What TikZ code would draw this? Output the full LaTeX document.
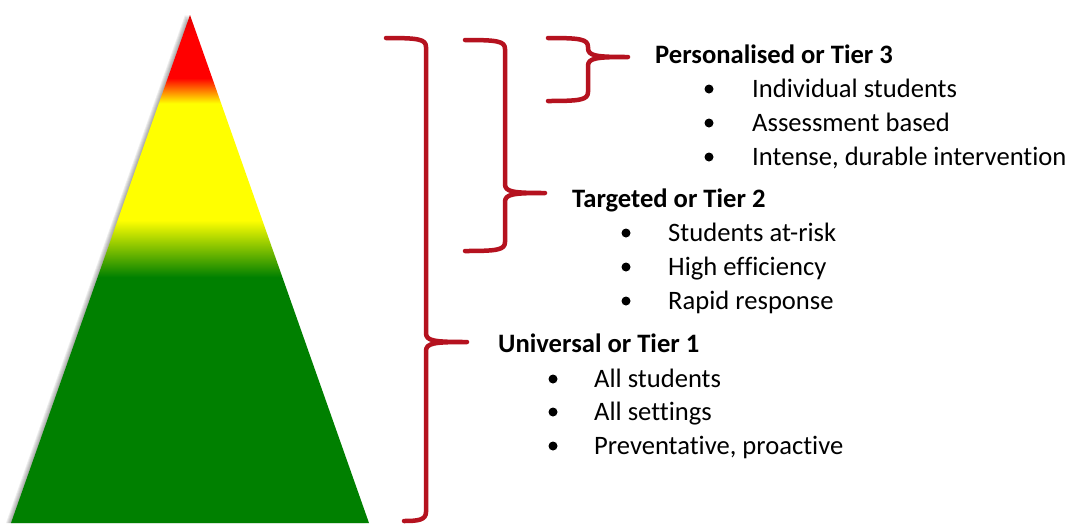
\documentclass[tikz,border=0pt]{standalone}
\usepackage{fontspec}
\setmainfont{Carlito}[Ligatures=NoCommon]
\definecolor{TierRed}{HTML}{FF0000}
\definecolor{TierYellow}{HTML}{FFFF00}
\definecolor{TierGreen}{HTML}{008000}
\definecolor{BraceRed}{HTML}{B5121F}
% colour bands of the pyramid, bottom (25bp) to apex (75bp)
\pgfdeclareverticalshading{tiershade}{100bp}{%
  color(0bp)=(TierGreen); color(49.2bp)=(TierGreen);
  color(54.8bp)=(TierYellow); color(66.3bp)=(TierYellow);
  color(68.8bp)=(TierRed); color(73bp)=(TierRed);
  color(75bp)=(TierRed!88!black); color(100bp)=(TierRed!88!black)}
% #1 top end, #2 spine x, #3 top y, #4 tip y, #5 tip x, #6 bottom y, #7 bottom end
\newcommand{\tierbrace}[7]{%
  \draw[brace line]
    (#1,#3) .. controls (#2-8,#3) and (#2,#3+1) .. (#2,#3+9)
    -- (#2,#4-9) .. controls (#2,#4-1) and (#2+8,#4) .. (#5,#4)
    .. controls (#2+8,#4) and (#2,#4+1) .. (#2,#4+9)
    -- (#2,#6-9) .. controls (#2,#6-1) and (#2-8,#6) .. (#7,#6);}

\begin{document}
\begin{tikzpicture}[x=1pt,y=-1pt,
    brace line/.style={BraceRed,line width=4.5pt,line cap=round,line join=round},
    tier title/.style={anchor=base west,inner sep=0pt,
      font=\fontsize{26.6}{32}\selectfont\bfseries},
    tier item/.style={anchor=base west,inner sep=0pt,
      font=\fontsize{26.6}{32}\selectfont},
    bulletdot/.style={circle,fill=black,inner sep=0pt,minimum size=9pt}]

  \useasboundingbox[fill=white] (0,0) rectangle (1070,523);

  % soft shadow on the left flank
  \foreach \s in {1,...,5}
    \fill[black,opacity=0.07] (190-\s,15) -- (11-\s,523) -- (369-\s,523) -- cycle;
  \shade[shading=tiershade] (190,15) -- (11,523) -- (369,523) -- cycle;

  \tierbrace{386}{426}{38}{342}{467}{521}{404}
  \tierbrace{465}{505}{40}{193}{545}{251}{465}
  \tierbrace{548}{588}{38}{57}{628}{101}{548}

  \node[tier title] (tier3) at (655,63) {Personalised or Tier 3};
  \node[bulletdot] (tier3a dot) at (709,89) {};
  \node[tier item] (tier3a) at (752,97) {Individual students};
  \node[bulletdot] (tier3b dot) at (709,123) {};
  \node[tier item] (tier3b) at (752,131) {Assessment based};
  \node[bulletdot] (tier3c dot) at (709,157) {};
  \node[tier item] (tier3c) at (752,165) {Intense, durable intervention};

  \node[tier title] (tier2) at (572,207) {Targeted or Tier 2};
  \node[bulletdot] (tier2a dot) at (626,233) {};
  \node[tier item] (tier2a) at (668,241) {Students at-risk};
  \node[bulletdot] (tier2b dot) at (626,267) {};
  \node[tier item] (tier2b) at (668,275) {High efficiency};
  \node[bulletdot] (tier2c dot) at (626,301) {};
  \node[tier item] (tier2c) at (668,309) {Rapid response};

  \node[tier title] (tier1) at (498,352) {Universal or Tier 1};
  \node[bulletdot] (tier1a dot) at (553,379) {};
  \node[tier item] (tier1a) at (594,387) {All students};
  \node[bulletdot] (tier1b dot) at (553,412) {};
  \node[tier item] (tier1b) at (594,420) {All settings};
  \node[bulletdot] (tier1c dot) at (553,446) {};
  \node[tier item] (tier1c) at (594,454) {Preventative, proactive};

\end{tikzpicture}
\end{document}
